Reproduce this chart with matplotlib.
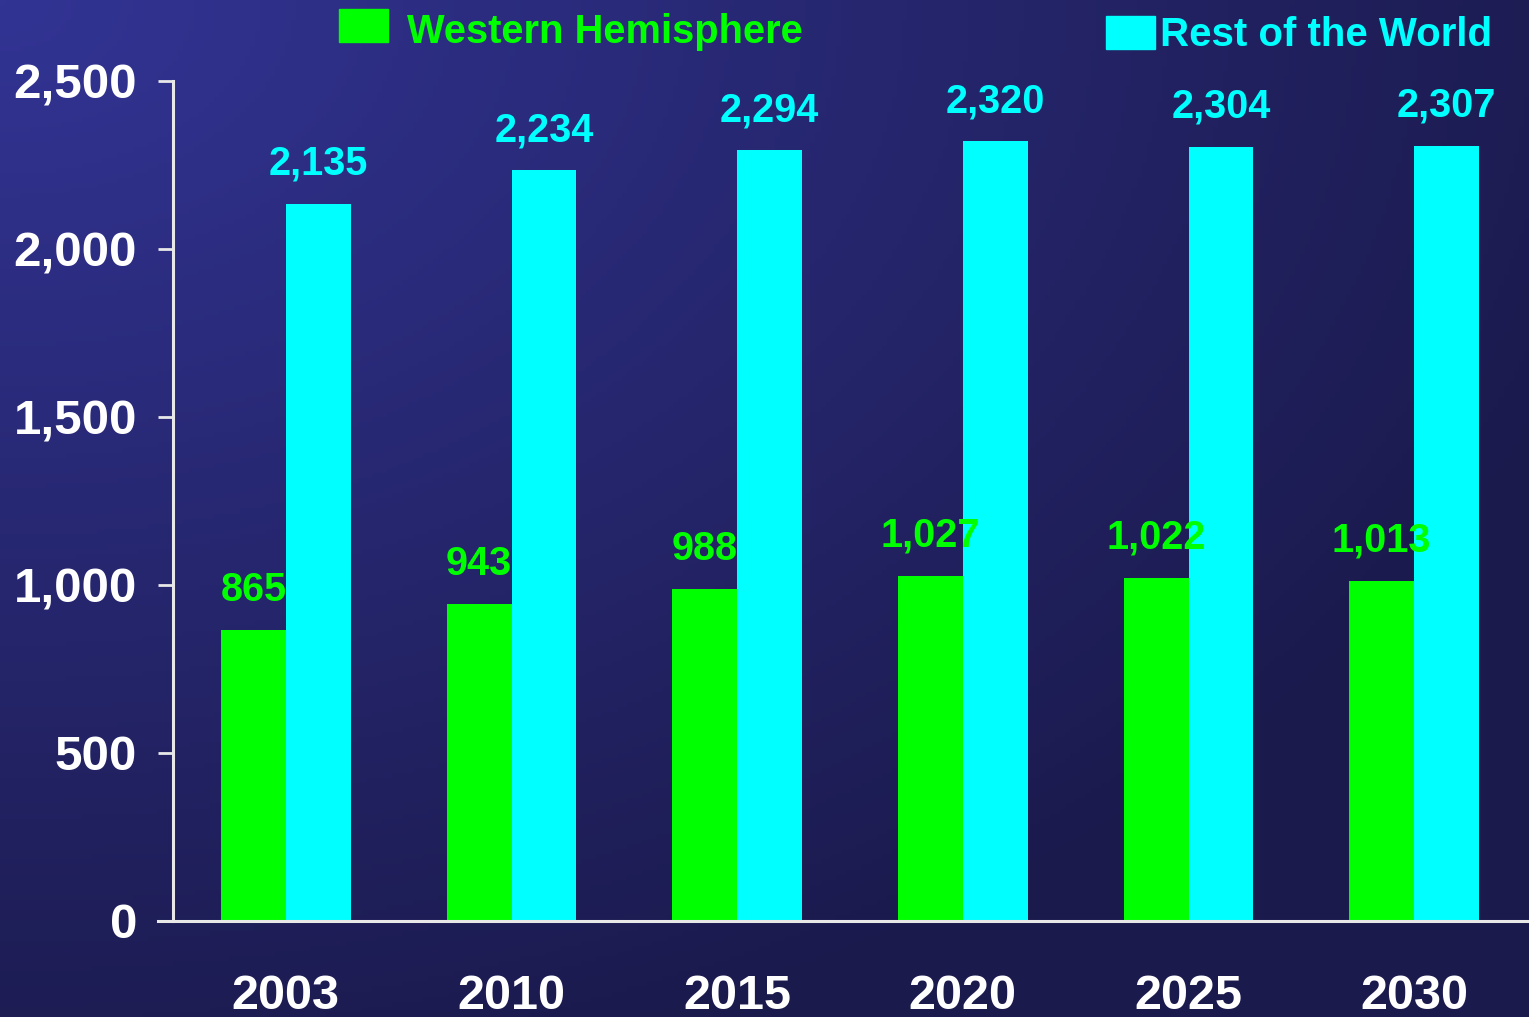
import matplotlib.pyplot as plt
import numpy as np

plt.rcParams['font.family'] = ['Liberation Sans', 'DejaVu Sans']
plt.rcParams['font.weight'] = 'bold'

years = ['2003', '2010', '2015', '2020', '2025', '2030']
western = [865, 943, 988, 1027, 1022, 1013]
rest = [2135, 2234, 2294, 2320, 2304, 2307]
yticks = [0, 500, 1000, 1500, 2000, 2500]

green = '#00ff00'
cyan = '#00ffff'

W, H = 1529, 1017
fig = plt.figure(figsize=(W / 100, H / 100), dpi=100)

# gradient background, lighter at the top-left corner
bg = fig.add_axes([0, 0, 1, 1], zorder=-10)
gx, gy = np.meshgrid(np.linspace(0, 1, 300), np.linspace(0, 1, 200))
t = np.clip(np.sqrt(gx ** 2 + gy ** 2) / 1.1, 0, 1)
c0 = np.array([50, 52, 148]) / 255
c1 = np.array([27, 26, 77]) / 255
img = c0[None, None, :] * (1 - t[..., None]) + c1[None, None, :] * t[..., None]
bg.imshow(img, aspect='auto', extent=[0, 1, 1, 0])
bg.axis('off')

ax = fig.add_axes([173 / W, 1 - 921 / H, (1527 - 173) / W, (921 - 81) / H])
ax.patch.set_alpha(0)

x = np.arange(len(years))
w = 0.288
# green drawn a touch wider so no seam shows under the cyan bar
b1 = ax.bar(x - w / 2 + 0.003, western, w + 0.006, color=green, linewidth=0,
            label='Western Hemisphere')
b2 = ax.bar(x + w / 2, rest, w, color=cyan, linewidth=0,
            label='Rest of the World')

for v, xc in zip(western, x - w / 2):
    ax.annotate(f'{v:,}', (xc, v), xytext=(0, 21),
                textcoords='offset pixels', ha='center', va='bottom',
                color=green, fontsize=28.5, fontweight='bold')
for v, xc in zip(rest, x + w / 2):
    ax.annotate(f'{v:,}', (xc, v), xytext=(0, 21),
                textcoords='offset pixels', ha='center', va='bottom',
                color=cyan, fontsize=28.5, fontweight='bold')

ax.set_xlim(-0.5, 5.5)
ax.set_ylim(0, 2500)
ax.set_yticks(yticks)
ax.set_yticklabels([f'{v:,}' for v in yticks], fontsize=35.5, color='white', fontweight='bold')
ax.set_xticks(x)
ax.set_xticklabels(years, fontsize=35, color='white', fontweight='bold')
ax.tick_params(axis='y', length=11, width=2, color='#e8e8e8', pad=15, direction='out')
ax.tick_params(axis='x', length=0, pad=38)
for s in ['top', 'right']:
    ax.spines[s].set_visible(False)
for s in ['left', 'bottom']:
    ax.spines[s].set_color('#e8e8e8')
    ax.spines[s].set_linewidth(2.2)
ax.spines['bottom'].set_bounds(-0.5 - 15 / 225.5, 5.5)
ax.spines['bottom'].set_clip_on(False)

# legend entries placed like the original
fig.patches.append(plt.Rectangle((339 / W, 1 - 42 / H), 49 / W, 33 / H, color=green,
                                 transform=fig.transFigure, figure=fig))
fig.text(407 / W, 1 - 32 / H, 'Western Hemisphere', color=green, fontsize=28.7,
         fontweight='bold', va='center', ha='left')
fig.patches.append(plt.Rectangle((1106 / W, 1 - 49 / H), 49 / W, 33 / H, color=cyan,
                                 transform=fig.transFigure, figure=fig))
fig.text(1160 / W, 1 - 35 / H, 'Rest of the World', color=cyan, fontsize=29,
         fontweight='bold', va='center', ha='left')

fig.savefig('out.png', dpi=100)
